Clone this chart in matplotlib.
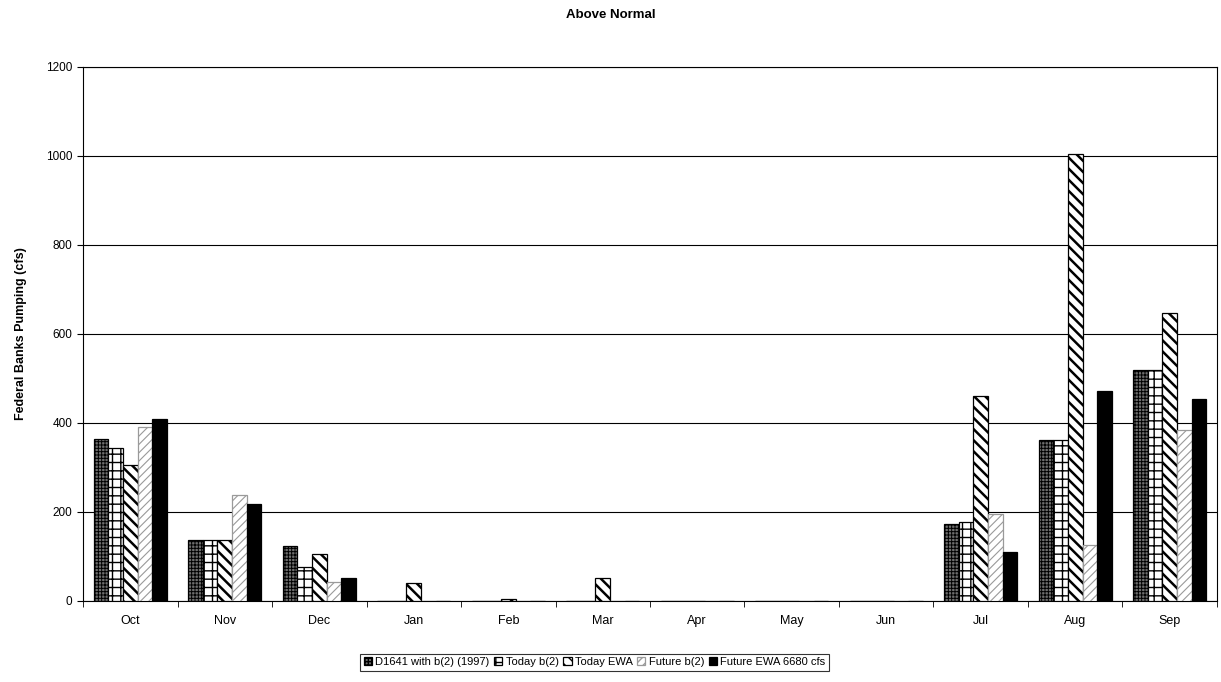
import matplotlib
matplotlib.use("Agg")
import matplotlib.pyplot as plt
import numpy as np

plt.rcParams['font.family'] = ['Liberation Sans', 'DejaVu Sans']

months = ["Oct", "Nov", "Dec", "Jan", "Feb", "Mar", "Apr", "May", "Jun", "Jul", "Aug", "Sep"]
series_names = ["D1641 with b(2) (1997)", "Today b(2)", "Today EWA", "Future b(2)", "Future EWA 6680 cfs"]
d1641 = [363, 137, 124, 1, 1, 1, 1, 1, 1, 172, 362, 518]
today_b2 = [344, 137, 76, 1, 1, 1, 1, 1, 1, 177, 362, 518]
today_ewa = [305, 137, 106, 40, 5, 52, 1, 1, 1, 460, 1005, 648]
future_b2 = [391, 238, 43, 1, 1, 1, 1, 1, 1, 195, 125, 385]
future_ewa = [409, 218, 52, 1, 1, 1, 1, 1, 1, 110, 472, 455]
yticks = [0, 200, 400, 600, 800, 1000, 1200]

series = [d1641, today_b2, today_ewa, future_b2, future_ewa]
styles = [
    dict(facecolor="#6e6e6e", hatch="+++++", edgecolor="black", hlw=0.7),
    dict(facecolor="white", hatch="++", edgecolor="black", hlw=1.0),
    dict(facecolor="white", hatch="\\\\\\", edgecolor="black", hlw=1.8),
    dict(facecolor="white", hatch="////", edgecolor="#9a9a9a", hlw=0.8),
    dict(facecolor="black", hatch=None, edgecolor="black", hlw=1.0),
]

fig = plt.figure(figsize=(12.21, 6.82), dpi=100)
ax = fig.add_axes([0.068, 0.1188, 0.9287, 0.783])

x = np.arange(len(months))
w = 0.155
for i, (vals, st) in enumerate(zip(series, styles)):
    plt.rcParams['hatch.linewidth'] = st["hlw"]
    ax.bar(x + (i - 2) * w, vals, w, label=series_names[i],
           facecolor=st["facecolor"], hatch=st["hatch"],
           edgecolor=st["edgecolor"], linewidth=0.9, zorder=3)

ax.set_xlim(-0.5, len(months) - 0.5)
ax.set_ylim(0, 1200)
ax.set_yticks(yticks)
ax.set_yticklabels([str(v) for v in yticks], fontsize=8.5)
ax.set_xticks(x)
ax.set_xticklabels(months, fontsize=9)
ax.tick_params(axis='x', length=0, pad=10)
ax.set_xticks(np.arange(-0.5, len(months), 1), minor=True)
ax.tick_params(axis='x', which='minor', length=4, direction='out')
ax.tick_params(axis='y', length=4, direction='out')
ax.grid(axis='y', color='black', linewidth=0.8, zorder=0)
for s in ax.spines.values():
    s.set_linewidth(0.8)

ax.set_ylabel("Federal Banks Pumping (cfs)", fontsize=9, fontweight='bold', labelpad=14)
fig.text(0.5, 0.978, "Above Normal", ha='center', va='center', fontsize=9.5, fontweight='bold')

leg = fig.legend(loc='center', bbox_to_anchor=(0.487, 0.029), ncol=5, fontsize=8,
                 frameon=True, fancybox=False, edgecolor='black', handlelength=0.75,
                 handleheight=0.75, handletextpad=0.3, columnspacing=0.4,
                 borderpad=0.3)
leg.get_frame().set_linewidth(0.8)

fig.savefig("out.png", dpi=100)
